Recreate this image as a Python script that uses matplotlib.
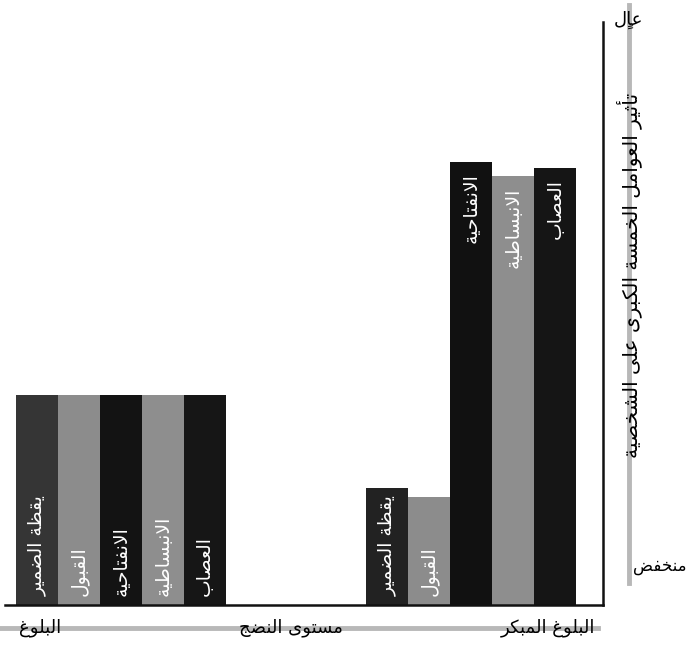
import matplotlib.pyplot as plt
from matplotlib.lines import Line2D
import numpy as np

plt.rcParams.update({'font.family': 'DejaVu Sans'})

traits = ['يقظة الضمير', 'القبول', 'الانفتاحية', 'الانبساطية', 'العصاب']
adulthood = [36, 36, 36, 36, 36]
young_adulthood = [20, 18.5, 76, 73.5, 75]
group_labels = ['البلوغ', 'مستوى النضج', 'البلوغ المبكر']
y_label = 'تأثير العوامل الخمسة الكبرى على الشخصية'
high_label = 'عالٍ'
low_label = 'منخفض'

adult_colors = ['#353535', '#8c8c8c', '#131313', '#8e8e8e', '#161616']
young_colors = ['#222222', '#8c8c8c', '#111111', '#8e8e8e', '#151515']

# matplotlib has no arabic shaping, so pick presentation forms by hand
DUAL = {'ب': 0xFE8F, 'ت': 0xFE95, 'ث': 0xFE99, 'ج': 0xFE9D, 'ح': 0xFEA1, 'خ': 0xFEA5,
        'س': 0xFEB1, 'ش': 0xFEB5, 'ص': 0xFEB9, 'ض': 0xFEBD, 'ط': 0xFEC1, 'ظ': 0xFEC5,
        'ع': 0xFEC9, 'غ': 0xFECD, 'ف': 0xFED1, 'ق': 0xFED5, 'ك': 0xFED9, 'ل': 0xFEDD,
        'م': 0xFEE1, 'ن': 0xFEE5, 'ه': 0xFEE9, 'ي': 0xFEF1}
RIGHT = {'ا': 0xFE8D, 'أ': 0xFE83, 'ة': 0xFE93, 'د': 0xFEA9, 'ذ': 0xFEAB, 'ر': 0xFEAD,
         'ز': 0xFEAF, 'و': 0xFEED, 'ى': 0xFEEF}
LAM_ALEF = {'ا': 0xFEFB, 'أ': 0xFEF7}


def shape(text):
    clusters = []
    for ch in text:
        if clusters and '\u064b' <= ch <= '\u0652':
            clusters[-1][1] += ch
        else:
            clusters.append([ch, ''])
    merged = []
    i = 0
    while i < len(clusters):
        c, m = clusters[i]
        if c == 'ل' and i + 1 < len(clusters) and clusters[i + 1][0] in LAM_ALEF:
            merged.append(['LA' + clusters[i + 1][0], m + clusters[i + 1][1]])
            i += 2
        else:
            merged.append([c, m])
            i += 1
    out = []
    for i, (c, m) in enumerate(merged):
        prev = merged[i - 1][0] if i > 0 else ''
        nxt = merged[i + 1][0] if i + 1 < len(merged) else ''
        jp = int(prev in DUAL)
        if c.startswith('LA'):
            g = chr(LAM_ALEF[c[2]] + jp)
        elif c in DUAL:
            jn = int(nxt in DUAL or nxt in RIGHT or nxt.startswith('LA'))
            g = chr(DUAL[c] + [[0, 2], [1, 3]][jp][jn])
        elif c in RIGHT:
            g = chr(RIGHT[c] + jp)
        else:
            g = c
        out.append(g + m)
    return ''.join(reversed(out))


fig = plt.figure(figsize=(6.87, 6.52), dpi=100)
ax = fig.add_axes([5 / 687, 1 - 605 / 652, 598 / 687, 583 / 652])

x_adult = np.arange(5)
x_young = np.arange(5) + 8.35
ax.bar(x_adult, adulthood, width=1.0, color=adult_colors)
ax.bar(x_young, young_adulthood, width=1.0, color=young_colors)

for xs, vals in [(x_adult, adulthood), (x_young, young_adulthood)]:
    for x, v, name in zip(xs, vals, traits):
        if v > 50:
            ax.text(x, v - 1.9, shape(name), rotation=90, ha='center', va='top',
                    color='white', fontsize=13.5)
        else:
            ax.text(x, 1.5, shape(name), rotation=90, ha='center', va='bottom',
                    color='white', fontsize=13.5)

ax.set_xlim(-0.76, 13.5)
ax.set_ylim(0, 100)
ax.set_xticks([])
ax.set_yticks([])
for side in ['left', 'top']:
    ax.spines[side].set_visible(False)
for side in ['right', 'bottom']:
    ax.spines[side].set_linewidth(1.8)
    ax.spines[side].set_color('#111111')

# grey guide lines under the axis names
fig.add_artist(Line2D([0, 598 / 687], [1 - 628 / 652] * 2, color='#b8b8b8', lw=3.5))
fig.add_artist(Line2D([629 / 687] * 2, [1 - 5 / 652, 1 - 583 / 652], color='#b8b8b8', lw=3.5))

for xp, name in zip([40, 291, 548], group_labels):
    fig.text(xp / 687, 1 - 628 / 652, shape(name), ha='center', va='center', fontsize=13)
fig.text(629 / 687, 1 - 275 / 652, shape(y_label), rotation=90, ha='center', va='center',
         fontsize=14.5)
fig.text(628 / 687, 1 - 20 / 652, shape(high_label), ha='center', va='center', fontsize=13)
fig.text(686 / 687, 1 - 566 / 652, shape(low_label), ha='right', va='center', fontsize=12)

fig.savefig('out.png', dpi=100)
